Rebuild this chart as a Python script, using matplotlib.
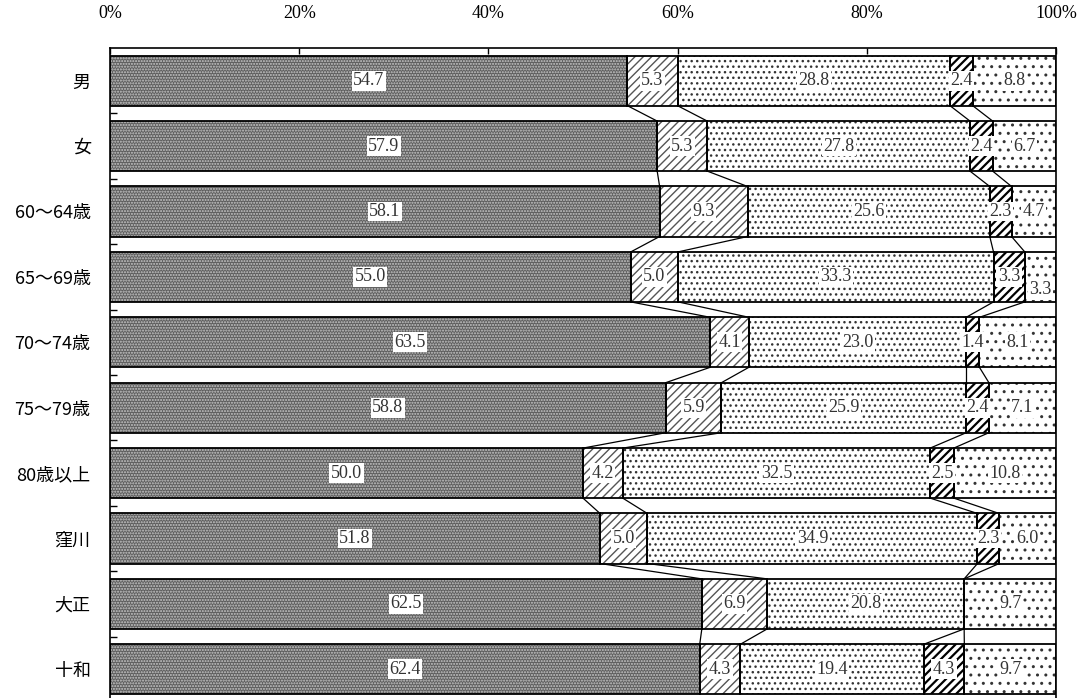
import matplotlib
matplotlib.use("Agg")
import matplotlib.pyplot as plt
import numpy as np

categories = ["男", "女", "60～64歳", "65～69歳", "70～74歳", "75～79歳",
              "80歳以上", "窪川", "大正", "十和"]
s1 = [54.7, 57.9, 58.1, 55.0, 63.5, 58.8, 50.0, 51.8, 62.5, 62.4]
s2 = [5.3, 5.3, 9.3, 5.0, 4.1, 5.9, 4.2, 5.0, 6.9, 4.3]
s3 = [28.8, 27.8, 25.6, 33.3, 23.0, 25.9, 32.5, 34.9, 20.8, 19.4]
s4 = [2.4, 2.4, 2.3, 3.3, 1.4, 2.4, 2.5, 2.3, 0.0, 4.3]
s5 = [8.8, 6.7, 4.7, 3.3, 8.1, 7.1, 10.8, 6.0, 9.7, 9.7]
xticklabels = ["0%", "20%", "40%", "60%", "80%", "100%"]

series = [s1, s2, s3, s4, s5]
# styles: (facecolor, hatch, hatchcolor, hatch linewidth)
styles = [("#5e5e5e", "......", "#c8c8c8", 1.0),
          ("white", "////", "#555555", 1.0),
          ("white", "...", "#333333", 1.0),
          ("white", "////", "black", 1.6),
          ("white", "..", "#333333", 1.0)]

fig = plt.figure(figsize=(10.83, 6.98), dpi=100)
ax = fig.add_axes([110 / 1083, -4 / 698, 946 / 1083, 654 / 698])

n = len(categories)
y = np.arange(n)
data = np.array(series, dtype=float)
tot = data.sum(axis=0)
pct = data / tot * 100.0
bh = 0.765

left = np.zeros(n)
cums = []
for k in range(len(series)):
    fc, hatch, hc, hlw = styles[k]
    with plt.rc_context({"hatch.linewidth": hlw, "hatch.color": hc}):
        bars = ax.barh(y, pct[k], left=left, height=bh, color=fc,
                       edgecolor=hc, linewidth=0, hatch=hatch, zorder=2)
        for b in bars:
            if hasattr(b, "set_hatch_linewidth"):
                b.set_hatch_linewidth(hlw)
    ax.barh(y, pct[k], left=left, height=bh, facecolor="none",
            edgecolor="black", linewidth=1.3, zorder=3)
    # labels
    for i in range(n):
        v = data[k][i]
        if v <= 0:
            continue
        cx = left[i] + pct[k][i] / 2
        cy = y[i]
        if k == 4 and categories[i] == "65～69歳":
            cy += 0.2
        ax.text(cx, cy, f"{v:.1f}", ha="center", va="center",
                fontsize=13, family=["Liberation Serif", "DejaVu Serif"],
                color="#333333", zorder=5,
                bbox=dict(boxstyle="square,pad=0.08", facecolor="white",
                          edgecolor="none"))
    left = left + pct[k]
    if k < len(series) - 1:
        cums.append(left.copy())

# leader lines between bars
for c in cums:
    for i in range(n - 1):
        ax.plot([c[i], c[i + 1]], [y[i] + bh / 2, y[i + 1] - bh / 2],
                color="black", linewidth=0.9, zorder=4)

ax.set_xlim(0, 100)
ax.set_ylim(n - 0.5, -0.5)
ax.xaxis.tick_top()
ax.set_xticks(np.linspace(0, 100, len(xticklabels)))
ax.set_xticklabels(xticklabels, fontsize=13,
                   family=["Liberation Serif", "DejaVu Serif"])
ax.tick_params(axis="x", direction="in", length=4, width=1, pad=19)
ax.set_yticks(y)
ax.set_yticklabels(categories, fontsize=13,
                   family=["Noto Sans CJK JP", "DejaVu Sans"])
ax.tick_params(axis="y", which="major", length=0, pad=14)
ax.set_yticks(np.arange(n - 1) + 0.5, minor=True)
ax.tick_params(axis="y", which="minor", direction="in", length=5, width=1)
for sp in ["top", "left", "right", "bottom"]:
    ax.spines[sp].set_linewidth(1.2)
    ax.spines[sp].set_color("black")

fig.savefig("out.png", dpi=100)
